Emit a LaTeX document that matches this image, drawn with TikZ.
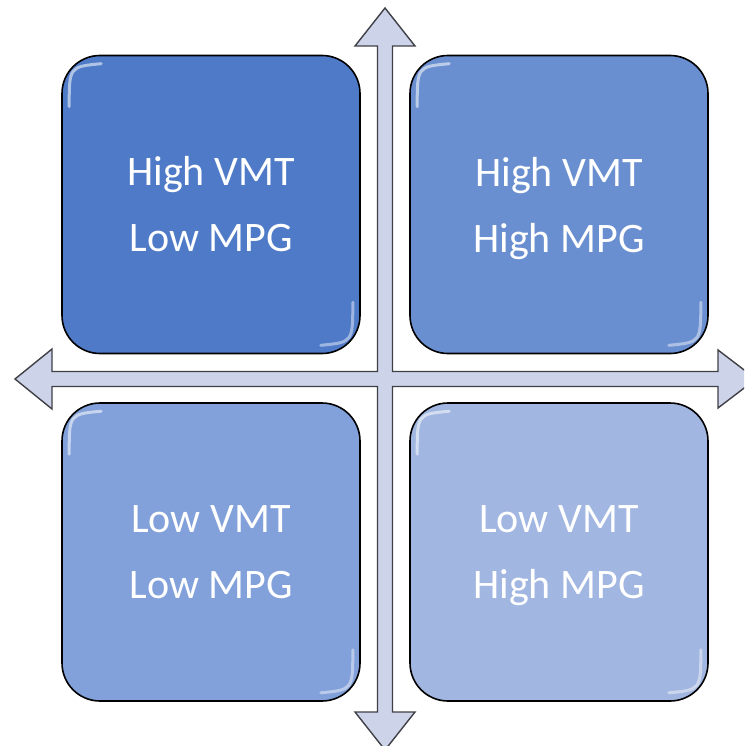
\documentclass[tikz,border=0pt]{standalone}
\usepackage{fontspec}
\setmainfont{Carlito}
\definecolor{qa}{HTML}{4E7AC7}
\definecolor{qb}{HTML}{6A8FD0}
\definecolor{qc}{HTML}{82A0D9}
\definecolor{qd}{HTML}{A1B6E0}
\definecolor{arrowfill}{HTML}{CDD4EA}
\definecolor{arrowline}{HTML}{3F3F46}
\newcommand{\nodepth}[1]{\raisebox{0pt}[\height][0pt]{#1}}
\begin{document}
\begin{tikzpicture}[x=1pt,y=-1pt,
  quad/.style={draw=black, line width=1.6pt, rounded corners=38pt,
    minimum width=298pt, minimum height=298pt, inner sep=0pt,
    text=white, align=center, font=\fontsize{42}{66}\selectfont},
  hl/.style={draw=white, line width=3pt, opacity=0.55, line cap=round},
  crossarrow/.style={fill=arrowfill, draw=arrowline, line width=1.4pt, line join=miter}]
\useasboundingbox (0,0) rectangle (744,746);
\clip (0,0) rectangle (744,746);
% cross of arrows
\coordinate (c) at (385,379);
\draw[crossarrow] (385,8) -- (415,46) -- (392.5,46) -- (392.5,371.5) -- (718,371.5)
  -- (718,350) -- (756,379) -- (718,408) -- (718,386.5) -- (392.5,386.5)
  -- (392.5,712) -- (415,712) -- (385,750) -- (355,712) -- (377.5,712)
  -- (377.5,386.5) -- (52,386.5) -- (52,409) -- (15,379) -- (52,349)
  -- (52,371.5) -- (377.5,371.5) -- (377.5,46) -- (355,46) -- cycle;
% quadrants
\node[quad, fill=qa] (tl) at (211,204.5) {High VMT\\Low MPG};
\node[quad, fill=qb] (tr) at (559,204.5) {High VMT\\\nodepth{High MPG}};
\node[quad, fill=qc] (bl) at (211,552) {Low VMT\\Low MPG};
\node[quad, fill=qd] (br) at (559,552) {Low VMT\\\nodepth{High MPG}};
% bevel highlights
\foreach \q in {tl,tr,bl,br}{
  \draw[hl] ([shift={(8,52)}]\q.north west) .. controls ([shift={(8,12)}]\q.north west) .. ([shift={(40,9)}]\q.north west);
  \draw[hl, opacity=0.45] ([shift={(-8,-52)}]\q.south east) .. controls ([shift={(-8,-12)}]\q.south east) .. ([shift={(-40,-9)}]\q.south east);
}
\end{tikzpicture}
\end{document}
